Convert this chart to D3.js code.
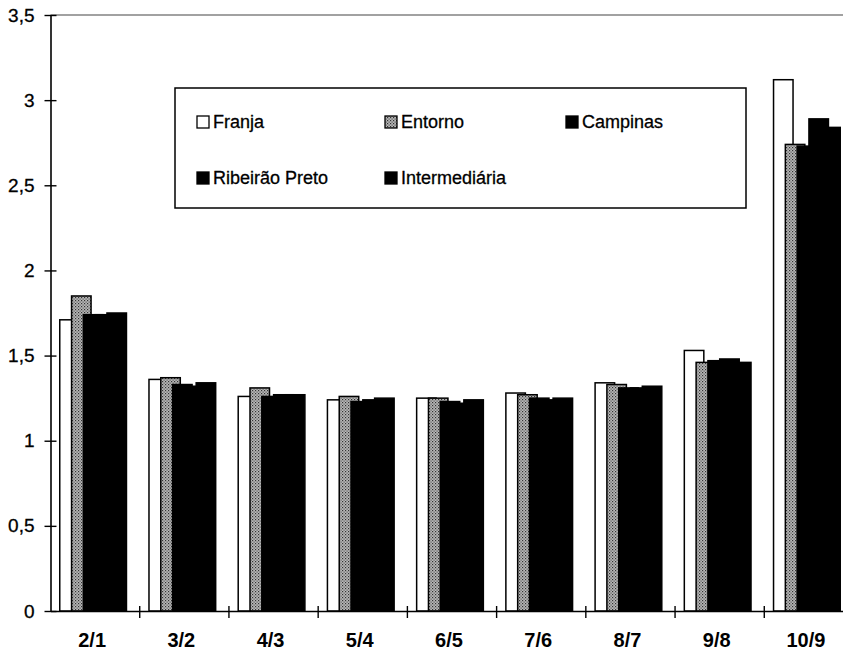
<!DOCTYPE html>
<html>
<head>
<meta charset="utf-8">
<script src="https://cdn.jsdelivr.net/npm/d3@7"></script>
<style>
  html, body { margin: 0; padding: 0; background: #fff; }
  svg { display: block; font-family: "Liberation Sans", Arial, Helvetica, sans-serif; }
</style>
</head>
<body>
<svg id="chart" width="843" height="652"></svg>
<script>
const categories = ["2/1", "3/2", "4/3", "5/4", "6/5", "7/6", "8/7", "9/8", "10/9"];
const seriesNames = ["Franja", "Entorno", "Campinas", "Ribeirão Preto", "Intermediária"];
const franja        = [1.71, 1.36, 1.26, 1.24, 1.25, 1.28, 1.34, 1.53, 3.12];
const entorno       = [1.85, 1.37, 1.31, 1.26, 1.25, 1.27, 1.33, 1.46, 2.74];
const campinas      = [1.74, 1.33, 1.26, 1.23, 1.23, 1.25, 1.31, 1.47, 2.73];
const ribeiraoPreto = [1.74, 1.32, 1.27, 1.24, 1.22, 1.24, 1.31, 1.48, 2.89];
const intermediaria = [1.75, 1.34, 1.27, 1.25, 1.24, 1.25, 1.32, 1.46, 2.84];
const yTickValues = [0, 0.5, 1, 1.5, 2, 2.5, 3, 3.5];
const yTickLabels = ["0", "0,5", "1", "1,5", "2", "2,5", "3", "3,5"];

const seriesValues = [franja, entorno, campinas, ribeiraoPreto, intermediaria];

(function () {
const svg = d3.select("#chart");
const defs = svg.append("defs");
const pat = defs.append("pattern")
  .attr("id", "dots").attr("patternUnits", "userSpaceOnUse")
  .attr("width", 3).attr("height", 3);
pat.append("rect").attr("width", 3).attr("height", 3).attr("fill", "#b8b8b8");
pat.append("rect").attr("x", 0).attr("y", 0).attr("width", 1.2).attr("height", 1.2).attr("fill", "#333");
pat.append("rect").attr("x", 1.5).attr("y", 1.5).attr("width", 1.2).attr("height", 1.2).attr("fill", "#555");

const fills = ["#fff", "url(#dots)", "#000", "#000", "#000"];

const mLeft = 50.5, mRight = 853.5, mTop = 15, mBottom = 611;
const x = d3.scaleBand().domain(categories).range([mLeft, mRight]).padding(0);
const y = d3.scaleLinear().domain([0, 3.5]).range([mBottom, mTop]);

const barW = 19.5, barStep = 11.8;
const groupSpan = barStep * (seriesNames.length - 1) + barW;

// top frame line
svg.append("line")
  .attr("x1", mLeft).attr("x2", mRight).attr("y1", y(3.5)).attr("y2", y(3.5))
  .attr("stroke", "#444").attr("stroke-width", 1.2);

// bars (series drawn in order so later ones overlap)
seriesValues.forEach((vals, si) => {
  svg.append("g").selectAll("rect")
    .data(vals)
    .join("rect")
    .attr("x", (d, i) => x(categories[i]) + (x.bandwidth() - groupSpan) / 2 - 2 + si * barStep)
    .attr("y", d => y(d))
    .attr("width", barW)
    .attr("height", d => y(0) - y(d))
    .attr("fill", fills[si])
    .attr("stroke", "#000")
    .attr("stroke-width", 1.5);
});

// y axis
const yAxis = d3.axisLeft(y)
  .tickValues(yTickValues)
  .tickFormat((d, i) => yTickLabels[i])
  .tickSizeInner(6).tickSizeOuter(0).tickPadding(8);
const gy = svg.append("g").attr("transform", `translate(${mLeft},0)`).call(yAxis);
gy.select(".domain").attr("stroke", "#000").attr("stroke-width", 1.6);
gy.selectAll(".tick line").attr("x2", 6).attr("x1", -6).attr("stroke", "#000").attr("stroke-width", 1.4);
gy.selectAll(".tick text").attr("font-size", 19).attr("fill", "#000").attr("x", -16)
  .attr("stroke", "#000").attr("stroke-width", 0.3);

// x axis
const xAxis = d3.axisBottom(x).tickSize(0).tickPadding(22);
const gx = svg.append("g").attr("transform", `translate(0,${mBottom})`).call(xAxis);
gx.select(".domain").attr("stroke", "#000").attr("stroke-width", 1.6);
gx.selectAll(".tick text").attr("font-size", 20).attr("font-weight", "bold").attr("fill", "#000")
  .attr("dx", -3);
// boundary ticks between categories
const bounds = categories.slice(1).map(c => x(c));
gx.append("g").selectAll("line").data(bounds).join("line")
  .attr("x1", d => d).attr("x2", d => d).attr("y1", -5).attr("y2", 7)
  .attr("stroke", "#000").attr("stroke-width", 1.4);

// legend
const lg = svg.append("g");
lg.append("rect").attr("x", 175).attr("y", 88).attr("width", 571).attr("height", 120)
  .attr("fill", "#fff").attr("stroke", "#000").attr("stroke-width", 1.5);
const legendPos = [[197, 122], [385, 122], [566, 122], [197, 178], [385, 178]];
seriesNames.forEach((name, i) => {
  const [lx, ly] = legendPos[i];
  lg.append("rect").attr("x", lx).attr("y", ly - 6).attr("width", 12).attr("height", 12)
    .attr("fill", fills[i]).attr("stroke", "#000").attr("stroke-width", 1.3);
  lg.append("text").attr("x", lx + 16).attr("y", ly).attr("dy", "0.35em")
    .attr("font-size", 18).attr("fill", "#000")
    .attr("stroke", "#000").attr("stroke-width", 0.3).text(name);
});
})();
</script>
</body>
</html>
